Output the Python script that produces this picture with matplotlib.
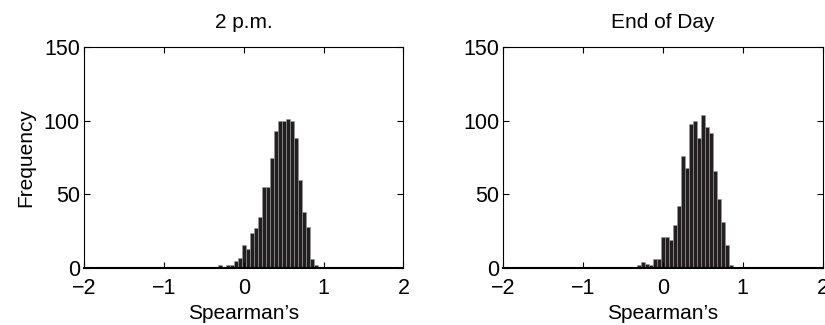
import numpy as np
import matplotlib
matplotlib.use("Agg")
import matplotlib.pyplot as plt

plt.rcParams['font.family'] = ['Liberation Sans', 'DejaVu Sans']

# bin centres (Spearman's rho), 0.05 wide
centers = [-0.35, -0.30, -0.25, -0.20, -0.15, -0.10, -0.05, 0.00, 0.05, 0.10,
           0.15, 0.20, 0.25, 0.30, 0.35, 0.40, 0.45, 0.50, 0.55, 0.60,
           0.65, 0.70, 0.75, 0.80, 0.85, 0.90, 0.95, 1.00]

counts_2pm = [1, 2, 1, 2, 2, 5, 7, 16, 13, 24,
              27, 35, 55, 55, 75, 93, 100, 100, 101, 100,
              88, 60, 38, 28, 6, 2, 1, 1]

counts_eod = [0, 2, 4, 3, 2, 6, 6, 21, 21, 19,
              29, 42, 76, 68, 98, 100, 88, 104, 96, 92,
              66, 47, 31, 16, 2, 1, 0, 1]

titles = ['2 p.m.', 'End of Day']

fig = plt.figure(figsize=(8.25, 3.25), dpi=100)
ax1 = fig.add_axes([0.102, 0.175, 0.387, 0.68])
ax2 = fig.add_axes([0.610, 0.175, 0.387, 0.68])

for ax, c, t in zip([ax1, ax2], [counts_2pm, counts_eod], titles):
    ax.bar(centers, c, width=0.05, color='#231f20', edgecolor='#9a9a9a', linewidth=0.4)
    ax.set_xlim(-2, 2)
    ax.set_ylim(0, 150)
    ax.set_xticks([-2, -1, 0, 1, 2])
    ax.set_yticks([0, 50, 100, 150])
    ax.tick_params(direction='in', length=4, top=True, right=True, labelsize=15.5)
    ax.tick_params(axis='x', pad=7)
    ax.tick_params(axis='y', pad=3)
    for s in ax.spines.values():
        s.set_linewidth(0.8)
    ax.spines['bottom'].set_linewidth(1.5)
    ax.set_title(t, fontsize=15, pad=14)
    ax.set_xlabel("Spearman\u2019s", fontsize=15, labelpad=4)

ax1.set_ylabel('Frequency', fontsize=15, labelpad=6)

fig.savefig('out.png', dpi=100)
